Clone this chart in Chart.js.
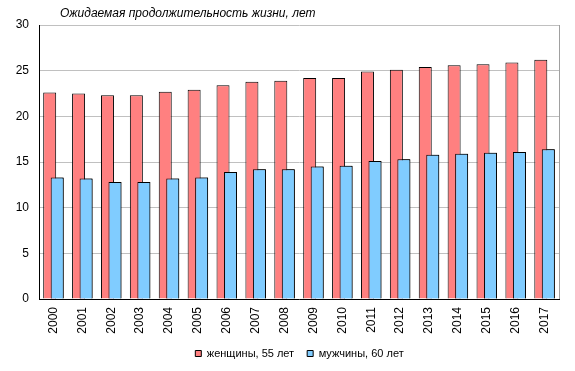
<!DOCTYPE html>
<html>
<head>
<meta charset="utf-8">
<script src="https://cdn.jsdelivr.net/npm/chart.js@4"></script>
<style>
  body { margin: 0; background: #fff; }
</style>
</head>
<body>
<canvas id="chart" width="575" height="371"></canvas>
<script>
var chartTitle = 'Ожидаемая продолжительность жизни, лет';
var years = ['2000', '2001', '2002', '2003', '2004', '2005', '2006', '2007', '2008',
             '2009', '2010', '2011', '2012', '2013', '2014', '2015', '2016', '2017'];
var womenLabel = 'женщины, 55 лет';
var menLabel = 'мужчины, 60 лет';
var women = [22.6, 22.5, 22.3, 22.3, 22.7, 22.9, 23.4, 23.8, 23.9,
             24.2, 24.2, 24.9, 25.1, 25.4, 25.6, 25.7, 25.9, 26.2];
var men = [13.3, 13.2, 12.8, 12.8, 13.2, 13.3, 13.9, 14.2, 14.2,
           14.5, 14.6, 15.1, 15.3, 15.8, 15.9, 16.0, 16.1, 16.4];

var font = '"Liberation Sans", Arial, sans-serif';

// title sits over the plot, left aligned a bit in from the axis
var titlePlugin = {
	id: 'plotTitle',
	afterDraw: function(chart) {
		var ctx = chart.ctx;
		ctx.save();
		ctx.font = 'italic 12px ' + font;
		ctx.fillStyle = '#000';
		ctx.textAlign = 'left';
		ctx.textBaseline = 'middle';
		ctx.fillText(chartTitle, chart.chartArea.left + 21, 14);
		ctx.restore();
	}
};

// gray frame on the right side of the plot
var framePlugin = {
	id: 'frame',
	beforeDatasetsDraw: function(chart) {
		var a = chart.chartArea, ctx = chart.ctx;
		ctx.save();
		ctx.strokeStyle = '#A0A0A0';
		ctx.lineWidth = 1;
		ctx.beginPath();
		ctx.moveTo(Math.round(a.right) + 0.5, a.top);
		ctx.lineTo(Math.round(a.right) + 0.5, a.bottom);
		ctx.stroke();
		ctx.restore();
	}
};

// men bars overlap the women bars, so draw them again on top
var overlapPlugin = {
	id: 'overlap',
	afterDatasetsDraw: function(chart) {
		var meta = chart.getDatasetMeta(1);
		meta.data.forEach(function(el) { el.draw(chart.ctx); });
	}
};

// legend is centred under the plot, not the whole canvas
var legendShift = {
	id: 'legendShift',
	afterLayout: function(chart) {
		chart.legend.left += 20;
		chart.legend.right += 20;
	}
};

new Chart(document.getElementById('chart'), {
	type: 'bar',
	data: {
		labels: years,
		datasets: [{
			label: womenLabel,
			data: women,
			backgroundColor: '#FF8080',
			borderColor: '#000',
			borderWidth: 1
		}, {
			label: menLabel,
			data: men,
			backgroundColor: '#80CCFF',
			borderColor: '#000',
			borderWidth: 1
		}]
	},
	options: {
		responsive: false,
		animation: false,
		categoryPercentage: 0.52,
		barPercentage: 1.73,
		layout: { padding: { top: 25, right: 16, bottom: 2, left: 0 } },
		plugins: {
			title: { display: false },
			tooltip: { enabled: false },
			legend: {
				position: 'bottom',
				labels: {
					boxWidth: 6,
					boxHeight: 6,
					padding: 13,
					color: '#000',
					font: { family: font, size: 11 }
				}
			}
		},
		scales: {
			x: {
				grid: { display: false, drawTicks: false },
				border: { color: '#000', width: 1 },
				ticks: {
					minRotation: 90,
					maxRotation: 90,
					padding: 8,
					color: '#000',
					font: { family: font, size: 12 }
				},
				afterFit: function(scale) { scale.height = 36; }
			},
			y: {
				min: 0,
				max: 30,
				grid: { color: '#C0C0C0', drawTicks: false },
				border: { color: '#000', width: 1 },
				ticks: {
					stepSize: 5,
					padding: 10,
					color: '#000',
					font: { family: font, size: 12 }
				},
				afterFit: function(scale) { scale.width = 39; }
			}
		}
	},
	plugins: [titlePlugin, framePlugin, overlapPlugin, legendShift]
});
</script>
</body>
</html>
